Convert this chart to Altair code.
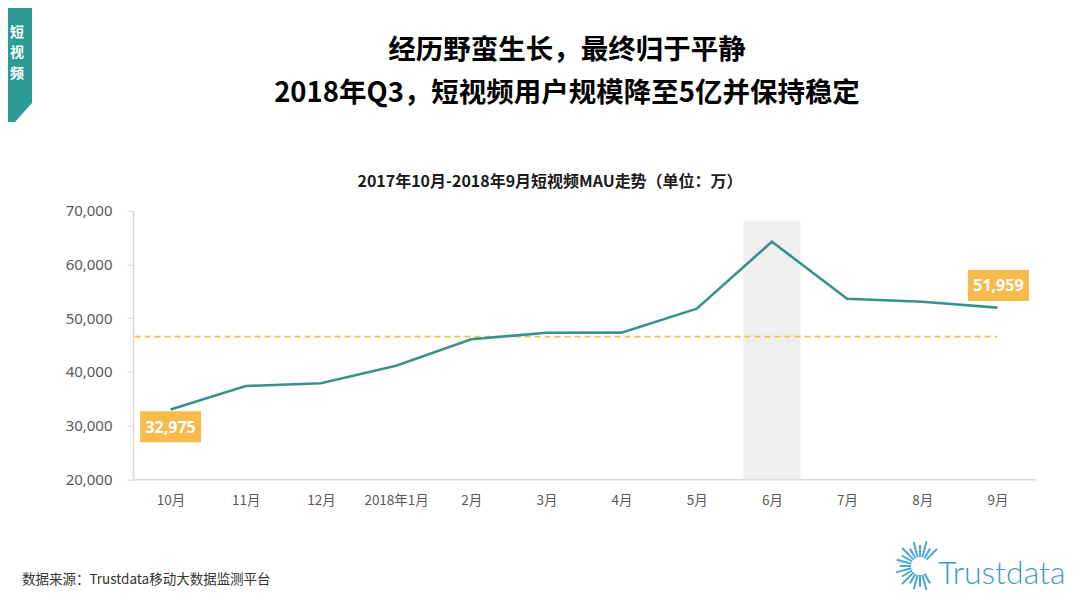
import math
import altair as alt
import pandas as pd

# ---------------- data ----------------
months = ["10月", "11月", "12月", "2018年1月", "2月", "3月", "4月", "5月", "6月", "7月", "8月", "9月"]
mau = [32975, 37370, 37870, 41150, 46060, 47280, 47300, 51760, 64230, 53620, 53060, 51959]
reference_value = 46550
highlight_month = "6月"
highlight_top = 68000
y_ticks = [20000, 30000, 40000, 50000, 60000, 70000]
title_lines = ["经历野蛮生长，最终归于平静", "2018年Q3，短视频用户规模降至5亿并保持稳定"]
subtitle = "2017年10月-2018年9月短视频MAU走势（单位：万）"
source_note = "数据来源：Trustdata移动大数据监测平台"
tab_text = "短视频"
logo_text = "Trustdata"

# ---------------- layout ----------------
PAD_L, PAD_T, PAD_R, PAD_B = 125, 202.7, 37, 114
W, H = 902, 268.6


def px(page_x):
    return page_x - 8 - PAD_L


def py(page_y):
    return page_y - 8 - PAD_T


TEAL_LINE = "#3a918c"
TEAL_TAB = "#2e9a95"
ORANGE = "#f7bb4b"
CJK = "Noto Sans CJK SC"

df = pd.DataFrame({"idx": list(range(len(months))), "month": months, "mau": mau,
                   "top": [highlight_top] * len(months), "bottom": [y_ticks[0]] * len(months)})

xscale = alt.Scale(domain=[-0.5, len(months) - 0.5], nice=False, zero=False, padding=0)
yscale = alt.Scale(domain=[y_ticks[0], y_ticks[-1]], nice=False, zero=False, padding=0)
label_expr = "[" + ",".join("'" + m + "'" for m in months) + "][datum.value]"

x_axis = alt.Axis(
    values=list(range(len(months))), labelExpr=label_expr, ticks=False, grid=False,
    domainColor="#d9d9d9", domainWidth=1.5, labelColor="#595959", labelFontSize=13.5,
    labelFont=CJK, labelPadding=14, title=None, labelFlush=False, labelOverlap=False,
)
y_axis = alt.Axis(
    values=y_ticks, labelExpr="format(datum.value, ',')", tickSize=6, tickColor="#d9d9d9",
    domainColor="#d9d9d9", domainWidth=1.5, grid=False, labelColor="#595959", labelFontSize=15,
    labelFont="Noto Sans", labelPadding=15, title=None,
)

X = alt.X("idx:Q", scale=xscale, axis=x_axis)
Y = alt.Y("mau:Q", scale=yscale, axis=y_axis)

base = alt.Chart(df)

# highlight band
band = base.transform_filter(alt.datum.month == highlight_month).mark_bar(
    width=57, color="#efefef"
).encode(
    x=X,
    y=alt.Y("top:Q", scale=yscale, axis=y_axis),
    y2="bottom:Q",
)

# reference dashed line
ref = alt.Chart(pd.DataFrame({"v": [reference_value]})).mark_rule(
    color="#f5c04a", strokeDash=[6, 4], strokeWidth=1.6
).encode(
    x=alt.X(datum=-0.48, scale=xscale, axis=x_axis),
    x2=alt.X2(datum=len(months) - 1),
    y=alt.Y("v:Q", scale=yscale, axis=y_axis),
)

line = base.mark_line(color=TEAL_LINE, strokeWidth=2.6).encode(x=X, y=Y)

box_shape = "M-30.5,-15.5 L30.5,-15.5 L30.5,15.5 L-30.5,15.5 Z"


def value_label(month, dy, dx=0):
    sub = base.transform_filter(alt.datum.month == month)
    box = sub.mark_point(shape=box_shape, size=4, filled=True, opacity=1, color=ORANGE,
                         yOffset=dy, xOffset=dx).encode(x=X, y=Y)
    txt = sub.mark_text(color="white", fontSize=16, fontWeight="bold", font="Noto Sans",
                        yOffset=dy + 1, xOffset=dx).encode(
        x=X, y=Y, text=alt.Text("mau:Q", format=","))
    return box + txt


lab_first = value_label(months[0], 17.2)
lab_last = value_label(months[-1], -22.2, 1)

one = pd.DataFrame({"a": [0]})

titles = alt.layer(
    alt.Chart(one).mark_text(fontSize=27.5, fontWeight="bold", font=CJK, color="#000000",
                             baseline="middle").encode(
        x=alt.value(px(567)), y=alt.value(py(51)), text=alt.value(title_lines[0])),
    alt.Chart(one).mark_text(fontSize=27.5, fontWeight="bold", font=CJK, color="#000000",
                             baseline="middle").encode(
        x=alt.value(px(567)), y=alt.value(py(94)), text=alt.value(title_lines[1])),
    alt.Chart(one).mark_text(fontSize=16, fontWeight="bold", font=CJK, color="#1a1a1a",
                             baseline="middle").encode(
        x=alt.value(px(550)), y=alt.value(py(182)), text=alt.value(subtitle)),
    alt.Chart(one).mark_text(fontSize=13.5, font=CJK, color="#333333", align="left",
                             baseline="middle").encode(
        x=alt.value(px(22)), y=alt.value(py(580)), text=alt.value(source_note)),
)

# left tab
tab_path = "M0,0 L32,0 L32,103 L15,122 L0,122 Z"
tab = alt.Chart(one).mark_point(shape=tab_path, size=4, filled=True, opacity=1,
                                color=TEAL_TAB).encode(x=alt.value(px(0)), y=alt.value(py(0)))
tab_label = alt.Chart(one).mark_text(
    fontSize=14, fontWeight="bold", font=CJK, color="white", lineBreak="\n", lineHeight=20.5,
    baseline="top", align="center",
).encode(x=alt.value(px(17)), y=alt.value(py(26)), text=alt.value("\n".join(list(tab_text))))

# logo sunburst
ray_angles = [-45, -60, -75, -90, -105, -120, -135, -150, -165, 180, 165, 150, 135, 120, 105, 90, 75, 60]
ray_lengths = [20, 15, 22, 16, 21, 15, 22, 16, 20, 15, 21, 16, 22, 15, 20, 16, 21, 15]
segs = []
for a, L in zip(ray_angles, ray_lengths):
    r = math.radians(a)
    segs.append("M%.1f,%.1f L%.1f,%.1f" % (9 * math.cos(r), 9 * math.sin(r),
                                             (9 + L * 0.75) * math.cos(r), (9 + L * 0.75) * math.sin(r)))
sun = alt.Chart(one).mark_point(shape=" ".join(segs), size=4, filled=False, opacity=1,
                                stroke="#4da7d6", strokeWidth=2).encode(
    x=alt.value(px(920)), y=alt.value(py(566)))
logo = alt.Chart(one).mark_text(fontSize=32, font="Lato", fontWeight=300, color="#3d9bd0",
                                align="left", baseline="alphabetic").encode(
    x=alt.value(px(938)), y=alt.value(py(584)), text=alt.value(logo_text))

chart = alt.layer(
    band, ref, line, lab_first, lab_last, titles, tab, tab_label, sun, logo
).properties(
    width=W, height=H,
    padding={"left": PAD_L, "top": PAD_T, "right": PAD_R, "bottom": PAD_B},
    autosize=alt.AutoSizeParams(type="none"),
    background="white",
).configure_view(stroke=None)

chart.save("out.html", embed_options={"renderer": "svg", "actions": False})
